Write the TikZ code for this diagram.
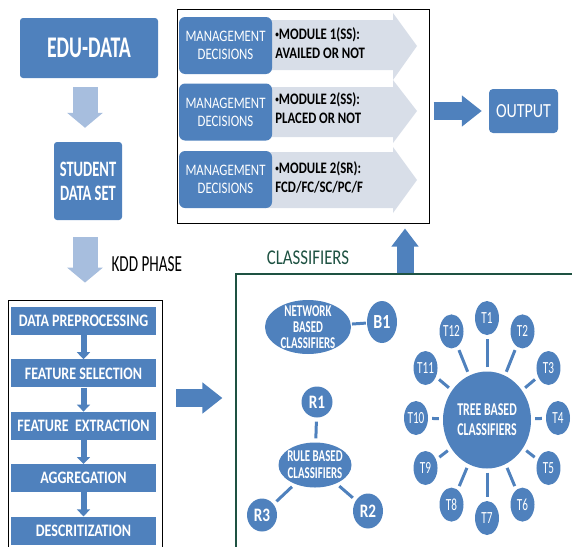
\documentclass[tikz,border=0pt]{standalone}
\usepackage{fontspec}
\setmainfont{Carlito}[FakeStretch=0.8]
\newfontfamily\tightfont{Carlito}[FakeStretch=0.66]
\usetikzlibrary{arrows.meta, shapes.geometric, positioning, calc}
\definecolor{mblue} {RGB}{79,129,189}
\definecolor{lblue} {RGB}{167,190,222}
\definecolor{chev}  {RGB}{216,222,232}
\definecolor{dgreen}{RGB}{30,82,66}
\newcommand{\fsz}[2]{\fontsize{#1}{#2}\selectfont}
\newcommand{\dotb}{\raisebox{2pt}{\fsz{9}{9}\textbullet}}

\begin{document}
\begin{tikzpicture}[x=1pt, y=-1pt,
  bluebox/.style={fill=mblue, text=white, align=center, rounded corners=3pt, inner sep=0pt},
  kddstep/.style={fill=mblue, text=white, font=\fsz{17.5}{19}\bfseries,
                  minimum width=145pt, minimum height=28pt, inner sep=0pt},
  cloud/.style={ellipse, fill=mblue, text=white, align=center, inner sep=-6pt},
  leaf/.style={ellipse, fill=mblue, text=white, inner sep=0pt,
               minimum width=24pt, minimum height=34pt, font=\tightfont\fsz{17}{19}},
  link/.style={draw=mblue, line width=3pt, shorten <=4pt, shorten >=4pt},
  lightarrow/.style={lblue, line width=25pt, -{Triangle[length=15pt, width=35pt]}},
  fatarrow/.style={mblue, line width=18pt, -{Triangle[length=20pt, width=30pt]}},
  minarrow/.style={mblue, line width=6pt, -{Triangle[length=7pt, width=13pt]}},
  modtext/.style={align=left, font=\fsz{16}{19}\bfseries, inner sep=0pt},
]
\useasboundingbox (0,0) rectangle (572,546);
\clip (0,0) rectangle (572,546);

% left column
\node[bluebox, minimum width=138pt, minimum height=60pt, font=\tightfont\fsz{30}{31}\bfseries]
  (edu) at (89,48) {EDU-DATA};
\node[bluebox, minimum width=68pt, minimum height=78pt, font=\tightfont\fsz{22}{24}\bfseries]
  (student) at (88,181) {STUDENT\\DATA SET};
\node[draw, line width=0.8pt, minimum width=154pt, minimum height=260pt]
  (kddbox) at (85,430) {};
\node[anchor=west, font=\tightfont\fsz{23}{24}] (kddlabel) at (108,264) {KDD PHASE};

\draw[lightarrow, shorten <=9pt, shorten >=14pt] ([xshift=-4pt]edu.south) -- ([xshift=-3pt]student.north);
\draw[lightarrow, shorten <=17pt, shorten >=17pt] ([xshift=-3pt]student.south) -- (kddbox.north);

% KDD steps
\node[kddstep] (s1) at (83.5,321) {DATA PREPROCESSING};
\node[kddstep, below=24pt of s1] (s2) {FEATURE SELECTION};
\node[kddstep, below=24pt of s2] (s3) {FEATURE \ EXTRACTION};
\node[kddstep, below=24pt of s3] (s4) {AGGREGATION};
\node[kddstep, below=24pt of s4] (s5) {DESCRITIZATION};
\foreach \a/\b in {s1/s2, s2/s3, s3/s4, s4/s5}
  \draw[minarrow] (\a) -- (\b);

% management decisions
\node[draw, line width=1pt, minimum width=252pt, minimum height=214pt] (mgmt) at (303,116) {};
\fill[chev] (265,20) -- (393,20) -- (393,13) -- (417,46) -- (393,80) -- (393,70) -- (265,70) -- cycle;
\fill[chev] (265,87) -- (393,87) -- (393,80) -- (417,111) -- (393,143) -- (393,137) -- (265,137) -- cycle;
\fill[chev] (265,152) -- (393,152) -- (393,147) -- (417,180) -- (393,213) -- (393,208) -- (265,208) -- cycle;
\node[bluebox, rounded corners=6pt, minimum width=93pt, minimum height=57pt, font=\fsz{16}{18}]
  (d1) at (225.5,45.5) {MANAGEMENT\\DECISIONS};
\node[bluebox, rounded corners=6pt, minimum width=93pt, minimum height=57pt, font=\fsz{16}{18}]
  (d2) at (225.5,112) {MANAGEMENT\\DECISIONS};
\node[bluebox, rounded corners=6pt, minimum width=93pt, minimum height=57pt, font=\fsz{16}{18}]
  (d3) at (225.5,179.5) {MANAGEMENT\\DECISIONS};
\node[modtext, right=3pt of d1, yshift=2pt] (m1) {\dotb MODULE 1(SS):\\AVAILED OR NOT};
\node[modtext, right=3pt of d2, yshift=4pt] (m2) {\dotb MODULE 2(SS):\\PLACED OR NOT};
\node[modtext, right=3pt of d3, yshift=2pt] (m3) {\dotb MODULE 2(SR):\\FCD/FC/SC/PC/F};

\node[bluebox, rounded corners=4pt, minimum width=69pt, minimum height=44pt, font=\fsz{20}{22}]
  (out) at (523.5,111) {OUTPUT};
\draw[fatarrow, shorten <=4pt, shorten >=7pt] (mgmt.east |- out.west) -- (out.west);

% classifiers
\node[draw=dgreen, line width=1.2pt, minimum width=354pt, minimum height=286pt]
  (clsbox) at (413,417) {};
\node[text=dgreen, font=\fsz{21}{22}] (clslabel) at (308,258) {CLASSIFIERS};
\coordinate (upfoot) at ([xshift=-8pt]clsbox.north);
\draw[mblue, line width=17pt, -{Triangle[length=18pt, width=26pt]}, shorten >=5pt]
  (upfoot) -- (upfoot |- mgmt.south);
\draw[fatarrow, shorten <=14pt, shorten >=13pt]
  ([yshift=32pt]kddbox.east) -- ([yshift=32pt]kddbox.east -| clsbox.west);

\node[cloud, minimum width=86pt, minimum height=54pt, font=\tightfont\fsz{16.5}{16}\bfseries]
  (net) at (308,327) {NETWORK\\BASED\\CLASSIFIERS};
\node[leaf, minimum width=30pt, minimum height=42pt, font=\fsz{20}{21}\bfseries] (b1) at (382,322) {B1};
\draw[link, shorten <=1pt, shorten >=1pt] (net) -- (b1);

\node[cloud, minimum width=73pt, minimum height=45pt, font=\tightfont\fsz{16.5}{17}\bfseries]
  (rule) at (315,465) {RULE BASED\\CLASSIFIERS};
\node[leaf, minimum width=31pt, minimum height=31pt, font=\fsz{19}{20}\bfseries] (r1) at (317,402) {R1};
\node[leaf, minimum width=30pt, minimum height=35pt, font=\fsz{19}{20}\bfseries] (r2) at (368,511) {R2};
\node[leaf, minimum width=30pt, minimum height=33pt, font=\fsz{19}{20}\bfseries] (r3) at (262,515) {R3};
\foreach \r in {r1, r2, r3}
  \draw[link] (rule) -- (\r);

\node[cloud, minimum width=88pt, minimum height=97pt, font=\tightfont\fsz{18}{20}\bfseries]
  (tree) at (487,420) {TREE BASED\\CLASSIFIERS};
\foreach \i in {1,...,12} {
  \pgfmathsetmacro{\ang}{30*(\i-1)}
  \node[leaf] (t\i) at ($(487,418)+({71*sin(\ang)},{-100*cos(\ang)})$) {T\i};
  \draw[link] (tree) -- (t\i);
}
\end{tikzpicture}
\end{document}
